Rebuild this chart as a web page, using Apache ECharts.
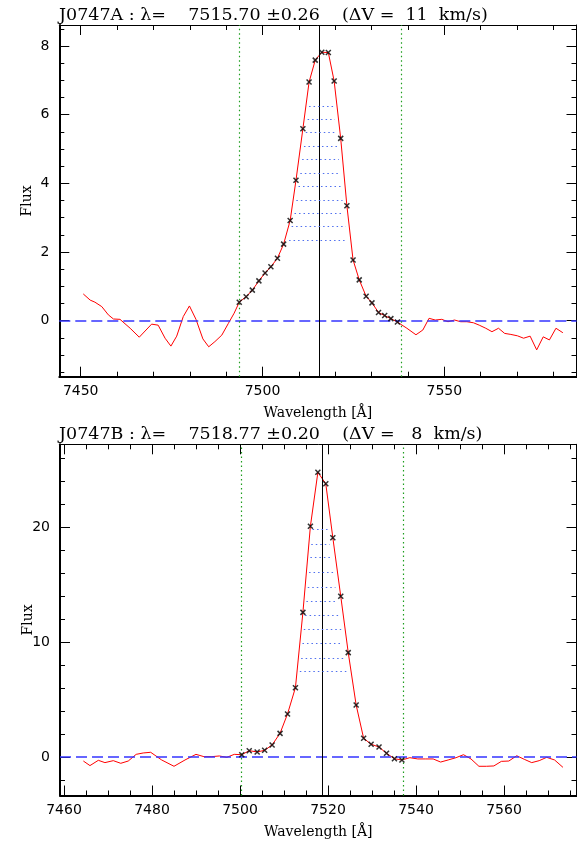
<!DOCTYPE html>
<html><head><meta charset="utf-8">
<script src="https://cdn.jsdelivr.net/npm/echarts@6/dist/echarts.min.js"></script>
<style>html,body{margin:0;padding:0;background:#fff}#c{width:577px;height:843px}</style>
</head><body><div id="c"></div>
<script>
// ---------- Panel A (J0747A) ----------
const topTitle = 'J0747A : \u03bb=    7515.70 \u00b10.26    (\u0394V =  11  km/s)';
const topWave = [7450.7, 7452.6, 7453.9, 7455.8, 7457.6, 7459.0, 7460.8, 7463.6, 7466.1, 7469.5, 7471.3, 7473.2, 7474.8, 7476.4, 7478.2, 7479.9, 7481.7, 7483.6, 7485.2, 7486.9, 7488.8, 7490.6, 7492.2, 7493.6, 7495.5, 7497.2, 7499.0, 7500.7, 7502.3, 7504.1, 7505.8, 7507.6, 7509.2, 7511.1, 7512.8, 7514.5, 7516.3, 7518.1, 7519.7, 7521.5, 7523.2, 7524.9, 7526.6, 7528.5, 7530.1, 7531.9, 7533.6, 7535.3, 7537.1, 7539.7, 7542.2, 7544.1, 7545.8, 7547.5, 7549.3, 7551.0, 7552.8, 7554.5, 7556.2, 7558.0, 7559.6, 7561.4, 7563.1, 7564.9, 7566.6, 7568.3, 7570.1, 7571.8, 7573.6, 7575.4, 7577.2, 7578.9, 7580.7, 7582.6];
const topFlux = [0.78, 0.60, 0.54, 0.41, 0.17, 0.05, 0.04, -0.22, -0.48, -0.10, -0.13, -0.51, -0.74, -0.45, 0.12, 0.43, 0.04, -0.53, -0.76, -0.61, -0.42, -0.08, 0.22, 0.54, 0.70, 0.89, 1.16, 1.39, 1.57, 1.82, 2.23, 2.92, 4.09, 5.59, 6.95, 7.59, 7.82, 7.81, 6.98, 5.31, 3.35, 1.77, 1.19, 0.71, 0.52, 0.24, 0.15, 0.06, -0.04, -0.22, -0.41, -0.27, 0.07, 0.02, 0.04, -0.03, 0.02, -0.03, -0.03, -0.06, -0.13, -0.22, -0.32, -0.22, -0.37, -0.40, -0.44, -0.51, -0.45, -0.85, -0.47, -0.56, -0.22, -0.35];
const topCentre = 7515.70;
const topWindow = [7493.5, 7538.1];
const topLevels = [6.26, 5.87, 5.48, 5.08, 4.69, 4.30, 3.91, 3.52, 3.13, 2.74, 2.35];
const topLevelLeft = [7512.8, 7512.4, 7511.9, 7511.4, 7510.9, 7510.4, 7509.9, 7509.3, 7508.8, 7508.0, 7507.3];
const topLevelRight = [7519.5, 7519.9, 7520.3, 7520.7, 7521.0, 7521.4, 7521.7, 7522.0, 7522.4, 7522.9, 7523.3];
const topXRange = [7444.11, 7586.35];
const topYRange = [-1.631, 8.613];
const topXMajor = [7450, 7500, 7550];
const topXMinor = [7450, 7460, 7470, 7480, 7490, 7500, 7510, 7520, 7530, 7540, 7550, 7560, 7570, 7580];
const topYMajor = [0, 2, 4, 6, 8];
const topYMinor = [-1.5, -1, -0.5, 0, 0.5, 1, 1.5, 2, 2.5, 3, 3.5, 4, 4.5, 5, 5.5, 6, 6.5, 7, 7.5, 8, 8.5];

// ---------- Panel B (J0747B) ----------
const botTitle = 'J0747B : \u03bb=    7518.77 \u00b10.20    (\u0394V =   8  km/s)';
const botWave = [7464.4, 7465.9, 7467.8, 7469.3, 7471.2, 7472.9, 7474.6, 7476.4, 7478.0, 7479.7, 7482.2, 7485.0, 7487.5, 7490.0, 7491.8, 7493.6, 7495.3, 7497.0, 7498.7, 7500.4, 7502.1, 7503.9, 7505.6, 7507.3, 7509.1, 7510.8, 7512.6, 7514.3, 7516.0, 7517.7, 7519.5, 7521.1, 7522.9, 7524.6, 7526.4, 7528.1, 7529.8, 7531.6, 7533.3, 7535.1, 7536.8, 7538.6, 7540.4, 7542.1, 7543.9, 7545.6, 7547.3, 7549.1, 7550.8, 7552.5, 7554.3, 7556.0, 7557.7, 7559.4, 7561.1, 7562.9, 7564.6, 7566.3, 7568.0, 7569.7, 7571.5, 7573.4];
const botFlux = [-0.35, -0.75, -0.29, -0.49, -0.32, -0.55, -0.35, 0.23, 0.35, 0.41, -0.26, -0.81, -0.26, 0.23, 0.03, 0.03, 0.09, -0.03, 0.23, 0.20, 0.55, 0.44, 0.58, 1.05, 2.06, 3.75, 6.04, 12.6, 20.1, 24.8, 23.8, 19.1, 14.0, 9.09, 4.53, 1.63, 1.11, 0.87, 0.32, -0.15, -0.26, -0.06, -0.17, -0.17, -0.17, -0.44, -0.26, -0.06, 0.20, -0.17, -0.81, -0.81, -0.78, -0.38, -0.35, 0.11, -0.20, -0.49, -0.32, -0.03, -0.26, -0.90];
const botCentre = 7518.77;
const botWindow = [7500.3, 7537.0];
const botLevels = [19.83, 18.55, 17.36, 16.09, 14.83, 13.61, 12.37, 11.12, 9.88, 8.62, 7.43];
const botLevelLeft = [7516.5, 7516.2, 7516.0, 7515.7, 7515.4, 7515.1, 7514.8, 7514.5, 7514.2, 7513.9, 7513.6];
const botLevelRight = [7519.9, 7520.4, 7520.8, 7521.2, 7521.7, 7522.1, 7522.6, 7523.0, 7523.4, 7523.9, 7524.4];
const botXRange = [7459.09, 7576.48];
const botYRange = [-3.354, 27.24];
const botXMajor = [7460, 7480, 7500, 7520, 7540, 7560];
const botXMinor = [7460, 7465, 7470, 7475, 7480, 7485, 7490, 7495, 7500, 7505, 7510, 7515, 7520, 7525, 7530, 7535, 7540, 7545, 7550, 7555, 7560, 7565, 7570, 7575];
const botYMajor = [0, 10, 20];
const botYMinor = [-2, 0, 2, 4, 6, 8, 10, 12, 14, 16, 18, 20, 22, 24, 26];

const xName = 'Wavelength [\u00c5]';
const yName = 'Flux';

// ---------- styles ----------
const SERIF = 'DejaVu Serif';
const SANS = 'DejaVu Sans';
const RED = '#ff0000', BLUE = '#3434ff', LEVEL = '#4f6fef', GREEN = '#1e9e1e';
const plain = v => String(v);

function axesFor(g, xr, yr, xMaj, xMin, yMaj, yMin) {
  const common = {gridIndex: g, type: 'value', splitLine: {show: false}, silent: true};
  const tickStyle = {color: '#000', width: 1};
  const xs = [
    Object.assign({}, common, {position: 'bottom', min: xr[0], max: xr[1],
      axisLine: {show: true, onZero: false, lineStyle: {color: '#000', width: 2}},
      axisTick: {show: true, inside: true, length: 10, customValues: xMaj, lineStyle: tickStyle},
      axisLabel: {show: true, customValues: xMaj, formatter: plain, color: '#000', fontFamily: SANS, fontSize: 14, margin: 8},
      name: xName, nameLocation: 'middle', nameGap: 30, nameMoveOverlap: false,
      nameTextStyle: {color: '#000', fontFamily: SERIF, fontSize: 14}}),
    Object.assign({}, common, {position: 'bottom', min: xr[0], max: xr[1],
      axisLine: {show: false, onZero: false},
      axisTick: {show: true, inside: true, length: 5, customValues: xMin, lineStyle: tickStyle},
      axisLabel: {show: false}}),
    Object.assign({}, common, {position: 'top', min: xr[0], max: xr[1],
      axisLine: {show: true, onZero: false, lineStyle: {color: '#000', width: 1}},
      axisTick: {show: true, inside: true, length: 10, customValues: xMaj, lineStyle: tickStyle},
      axisLabel: {show: false}}),
    Object.assign({}, common, {position: 'top', min: xr[0], max: xr[1],
      axisLine: {show: false, onZero: false},
      axisTick: {show: true, inside: true, length: 5, customValues: xMin, lineStyle: tickStyle},
      axisLabel: {show: false}})
  ];
  const ys = [
    Object.assign({}, common, {position: 'left', min: yr[0], max: yr[1],
      axisLine: {show: true, onZero: false, lineStyle: {color: '#000', width: 2}},
      axisTick: {show: true, inside: true, length: 10, customValues: yMaj, lineStyle: tickStyle},
      axisLabel: {show: true, customValues: yMaj, formatter: plain, color: '#000', fontFamily: SANS, fontSize: 14, margin: 10},
      name: yName, nameLocation: 'middle', nameGap: 25, nameRotate: 90, nameMoveOverlap: false,
      nameTextStyle: {color: '#000', fontFamily: SERIF, fontSize: 14}}),
    Object.assign({}, common, {position: 'left', min: yr[0], max: yr[1],
      axisLine: {show: false, onZero: false},
      axisTick: {show: true, inside: true, length: 5, customValues: yMin, lineStyle: tickStyle},
      axisLabel: {show: false}}),
    Object.assign({}, common, {position: 'right', min: yr[0], max: yr[1],
      axisLine: {show: true, onZero: false, lineStyle: {color: '#000', width: 1}},
      axisTick: {show: true, inside: true, length: 10, customValues: yMaj, lineStyle: tickStyle},
      axisLabel: {show: false}}),
    Object.assign({}, common, {position: 'right', min: yr[0], max: yr[1],
      axisLine: {show: false, onZero: false},
      axisTick: {show: true, inside: true, length: 5, customValues: yMin, lineStyle: tickStyle},
      axisLabel: {show: false}})
  ];
  return {xs, ys};
}

function seriesFor(g, wave, flux, centre, win, levels, lvL, lvR) {
  const ax = g * 4;
  const pts = wave.map((w, i) => [w, flux[i]]);
  const marks = pts.filter(p => p[0] > win[0] - 0.5 && p[0] < win[1] + 0.5);
  const levelStyle = {color: LEVEL, width: 1, type: [1.5, 3]};
  const levelLines = levels.map((v, i) => [
    {coord: [lvL[i], v], lineStyle: levelStyle},
    {coord: [lvR[i], v], lineStyle: levelStyle}
  ]);
  return [
    {
      type: 'line', xAxisIndex: ax, yAxisIndex: ax, data: pts, showSymbol: false,
      symbol: 'none', lineStyle: {color: RED, width: 1}, z: 3, silent: true,
      markLine: {
        symbol: ['none', 'none'], silent: true, animation: false, label: {show: false},
        emphasis: {disabled: true},
        data: [
          {yAxis: 0, lineStyle: {color: BLUE, width: 1.5, type: [11, 5]}},
          {xAxis: win[0], lineStyle: {color: GREEN, width: 1.2, type: [1.5, 3]}},
          {xAxis: win[1], lineStyle: {color: GREEN, width: 1.2, type: [1.5, 3]}},
          {xAxis: centre, lineStyle: {color: '#000', width: 1, type: 'solid'}}
        ].concat(levelLines)
      }
    },
    {
      type: 'scatter', xAxisIndex: ax, yAxisIndex: ax, data: marks, z: 5, silent: true,
      symbol: 'path://M0,0L10,10M10,0L0,10', symbolSize: 5,
      itemStyle: {color: 'rgba(0,0,0,0)', borderColor: '#000', borderWidth: 1.5}
    }
  ];
}

const A = axesFor(0, topXRange, topYRange, topXMajor, topXMinor, topYMajor, topYMinor);
const B = axesFor(1, botXRange, botYRange, botXMajor, botXMinor, botYMajor, botYMinor);

const titleStyle = {fontFamily: SERIF, fontSize: 17.5, fontWeight: 'normal', color: '#000'};
const chart = echarts.init(document.getElementById('c'), null, {renderer: 'canvas'});
chart.setOption({
  animation: false,
  backgroundColor: '#fff',
  title: [
    {text: topTitle, left: 59, top: 6, padding: 0, textStyle: titleStyle},
    {text: botTitle, left: 59, top: 425, padding: 0, textStyle: titleStyle}
  ],
  grid: [
    {left: 59.3, top: 25, width: 517.2, height: 351.7, containLabel: false},
    {left: 60, top: 444.3, width: 516.5, height: 351.2, containLabel: false}
  ],
  xAxis: A.xs.concat(B.xs),
  yAxis: A.ys.concat(B.ys),
  series: seriesFor(0, topWave, topFlux, topCentre, topWindow, topLevels, topLevelLeft, topLevelRight)
    .concat(seriesFor(1, botWave, botFlux, botCentre, botWindow, botLevels, botLevelLeft, botLevelRight))
});
</script>
</body></html>
